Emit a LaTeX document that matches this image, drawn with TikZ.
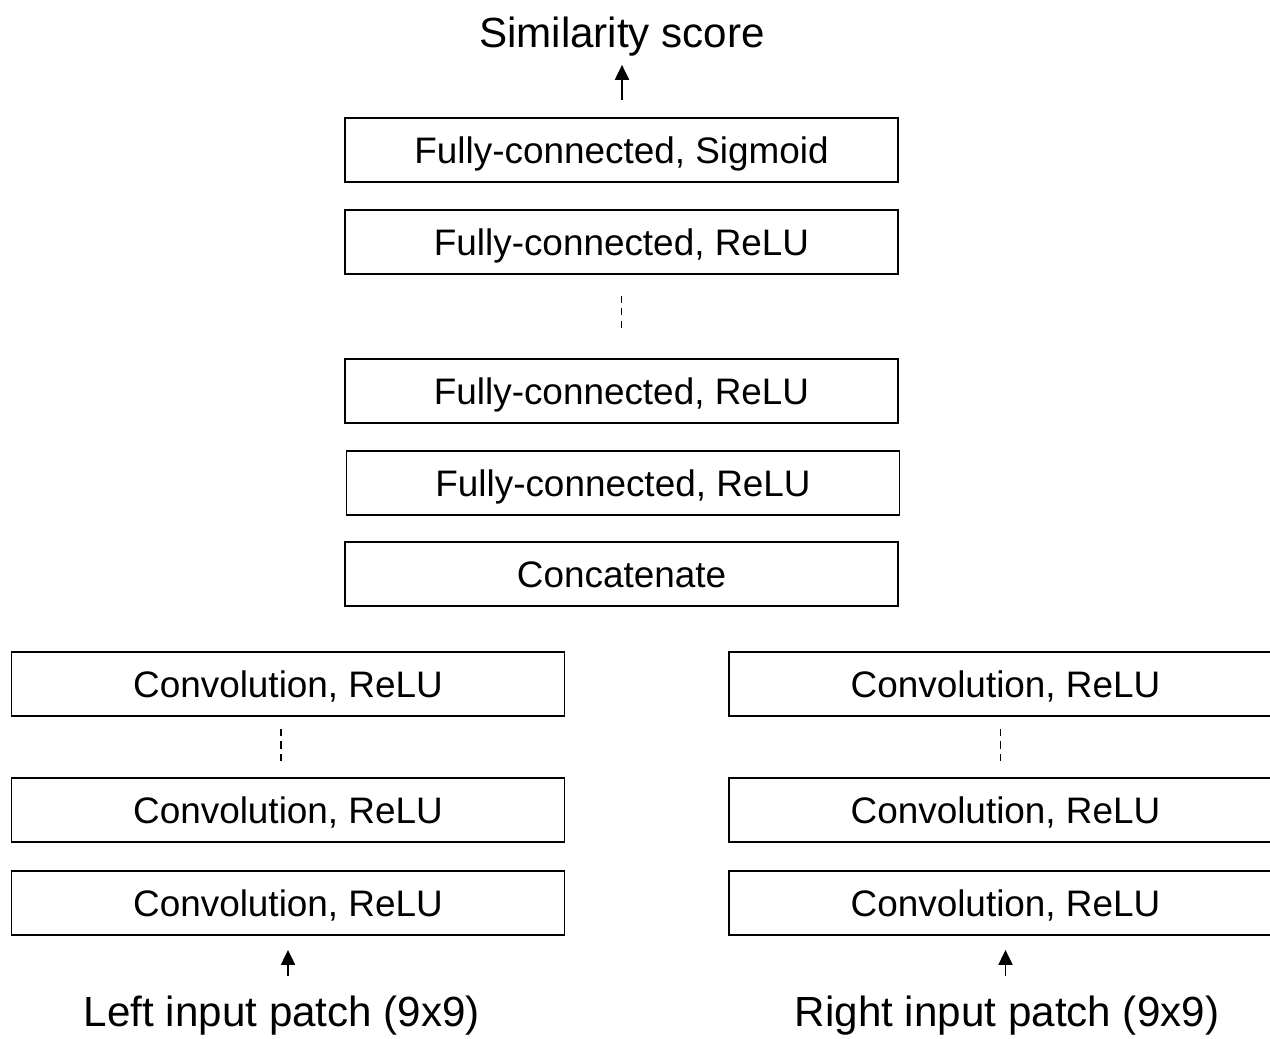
\documentclass[tikz,border=0pt]{standalone}
\usepackage{fontspec}
\setmainfont{Liberation Sans}
\usetikzlibrary{arrows.meta}
\begin{document}
\begin{tikzpicture}[
    x=0.02cm, y=-0.02cm,
    layer/.style={rectangle, draw, line width=1pt, minimum width=11.06cm, minimum height=1.28cm, inner sep=0pt, text height=15pt, text depth=0pt, font=\fontsize{21}{25}\selectfont},
    caption/.style={font=\fontsize{24}{28}\selectfont, inner sep=0pt, anchor=base},
    arrow/.style={-{Triangle[length=8.5pt, width=8pt]}, line width=1pt},
    gap/.style={line width=1pt, dash pattern=on 4pt off 3pt}
]
    \clip (0,0) rectangle (1270,1038);

    % Shared head
    \node [caption] (score) at (622,47) {Similarity score};
    \node [layer] (sigmoid) at (621.5,150) {Fully-connected, Sigmoid};
    \node [layer] (fcd) at (621.5,242) {Fully-connected, ReLU};
    \node [layer] (fcb) at (621.5,391) {Fully-connected, ReLU};
    \node [layer] (fca) at (623,483) {Fully-connected, ReLU};
    \node [layer] (concat) at (621.5,574) {Concatenate};

    % Left branch
    \node [layer] (lconvc) at (288,684) {Convolution, ReLU};
    \node [layer] (lconvb) at (288,810) {Convolution, ReLU};
    \node [layer] (lconva) at (288,903) {Convolution, ReLU};
    \node [caption] (lpatch) at (282,1026) {Left input patch (9x9)};

    % Right branch
    \node [layer] (rconvc) at (1005.5,684) {Convolution, ReLU};
    \node [layer] (rconvb) at (1005.5,810) {Convolution, ReLU};
    \node [layer] (rconva) at (1005.5,903) {Convolution, ReLU};
    \node [caption] (rpatch) at (1007,1026) {Right input patch (9x9)};

    \draw [arrow, shorten <=10pt, shorten >=5pt] (sigmoid.north -| score) -- (score.south);
    \draw [arrow, shorten <=11pt, shorten >=8pt] (lpatch.north -| lconva) -- (lconva.south);
    \draw [arrow, shorten <=11pt, shorten >=8pt] (rpatch.north -| rconva) -- (rconva.south);

    \draw [gap, shorten <=12pt, shorten >=17pt] (fcd.south) -- (fcb.north);
    \draw [gap, shorten <=7pt, shorten >=9pt] ([xshift=-0.14cm]lconvc.south) -- ([xshift=-0.14cm]lconvb.north);
    \draw [gap, shorten <=7pt, shorten >=9pt] ([xshift=-0.1cm]rconvc.south) -- ([xshift=-0.1cm]rconvb.north);
\end{tikzpicture}
\end{document}
